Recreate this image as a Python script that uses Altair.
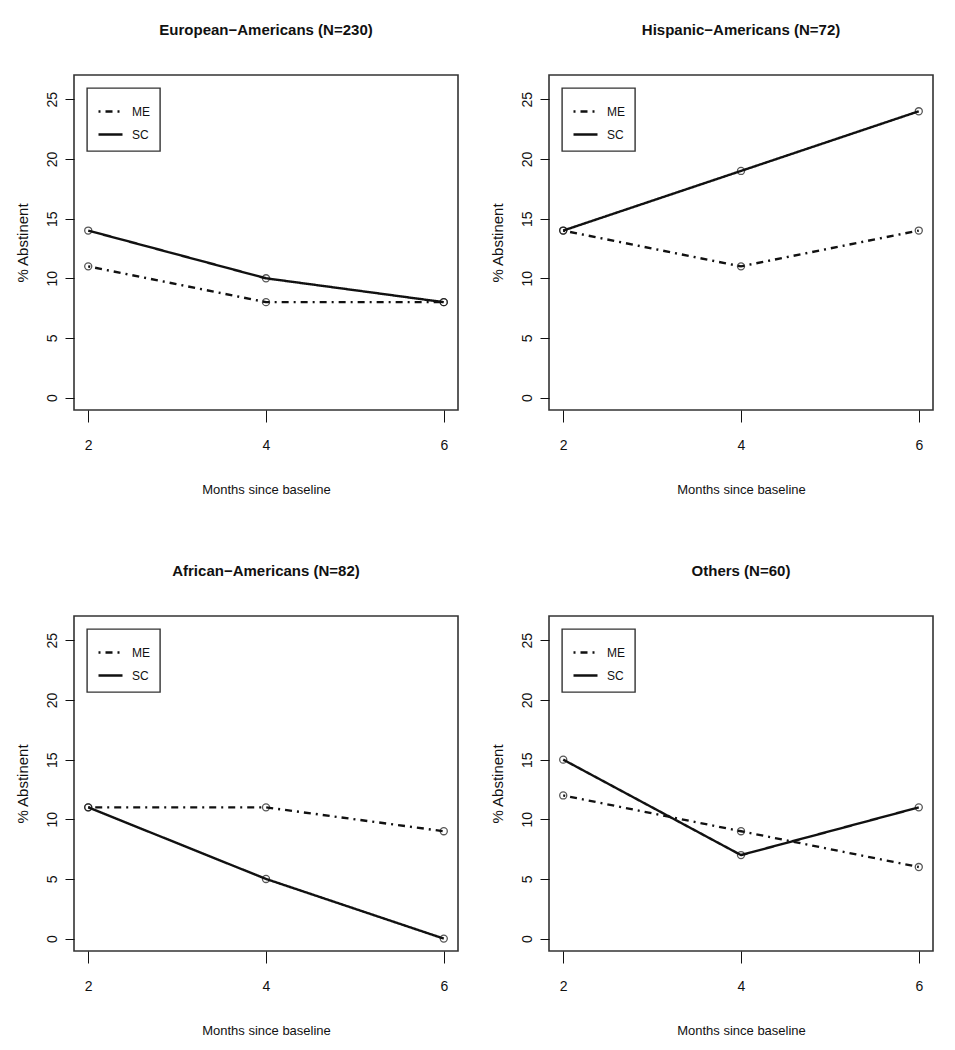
import altair as alt
import pandas as pd

months = [2, 4, 6]
panel_titles = [
    "European\u2212Americans (N=230)",
    "Hispanic\u2212Americans (N=72)",
    "African\u2212Americans (N=82)",
    "Others (N=60)",
]
series_names = ["ME", "SC"]
euro_me = [11, 8, 8]
euro_sc = [14, 10, 8]
hisp_me = [14, 11, 14]
hisp_sc = [14, 19, 24]
afr_me = [11, 11, 9]
afr_sc = [11, 5, 0]
oth_me = [12, 9, 6]
oth_sc = [15, 7, 11]
y_ticks = [0, 5, 10, 15, 20, 25]
x_title = "Months since baseline"
y_title = "% Abstinent"

panel_values = [
    (euro_me, euro_sc),
    (hisp_me, hisp_sc),
    (afr_me, afr_sc),
    (oth_me, oth_sc),
]

FONT = "Liberation Sans, Arial, Helvetica, sans-serif"
INK = "#111111"


def panel(title, me, sc):
    rows = []
    for name, vals in zip(series_names, (me, sc)):
        for m, v in zip(months, vals):
            rows.append({"month": m, "value": v, "series": name})
    df = pd.DataFrame(rows)
    x = alt.X(
        "month:Q",
        scale=alt.Scale(domain=[1.84, 6.16], nice=False, zero=False),
        axis=alt.Axis(
            values=months, title=x_title, grid=False, domain=False,
            tickSize=12, tickColor=INK, tickWidth=1,
            labelFont=FONT, labelFontSize=14, labelColor=INK, labelPadding=16,
            labelBaseline="top",
            titleFont=FONT, titleFontSize=13, titleFontWeight="normal",
            titleColor=INK, titlePadding=31,
        ),
    )
    y = alt.Y(
        "value:Q",
        scale=alt.Scale(domain=[-1.04, 27.04], nice=False, zero=False),
        axis=alt.Axis(
            values=y_ticks, title=y_title, grid=False, domain=False,
            tickSize=9, tickColor=INK, tickWidth=1,
            labelFont=FONT, labelFontSize=14, labelColor=INK, labelPadding=6,
            labelAngle=270, labelAlign="center", labelBaseline="bottom",
            titleFont=FONT, titleFontSize=15, titleFontWeight="normal",
            titleColor=INK, titlePadding=15,
        ),
    )
    lines = alt.Chart(df).mark_line(color=INK, strokeWidth=2.4).encode(
        x=x,
        y=y,
        strokeDash=alt.StrokeDash(
            "series:N",
            scale=alt.Scale(domain=series_names, range=[[2, 5, 7, 5], [1, 0]]),
            legend=alt.Legend(
                title=None, orient="top-left", offset=13,
                symbolType="stroke", symbolSize=576, symbolStrokeWidth=2.4,
                symbolStrokeColor=INK, labelFont=FONT, labelFontSize=12,
                labelColor=INK, labelOffset=8, padding=10, rowPadding=3,
                strokeColor="#333333", fillColor="white", cornerRadius=0,
            ),
        ),
    )
    points = alt.Chart(df).mark_point(
        shape="circle", filled=False, color=INK, size=50, strokeWidth=1.3
    ).encode(x=x, y=y, detail="series:N")
    return alt.layer(lines, points).properties(
        width=384, height=335,
        title=alt.TitleParams(
            title, font=FONT, fontSize=15, fontWeight="bold", color=INK,
            anchor="middle", frame="group", offset=37,
        ),
    )


charts = [panel(t, *v) for t, v in zip(panel_titles, panel_values)]
row1 = alt.hconcat(charts[0], charts[1], spacing=30).resolve_scale(
    strokeDash="independent").resolve_legend(strokeDash="independent")
row2 = alt.hconcat(charts[2], charts[3], spacing=30).resolve_scale(
    strokeDash="independent").resolve_legend(strokeDash="independent")
chart = alt.vconcat(row1, row2, spacing=66).resolve_scale(
    strokeDash="independent"
).resolve_legend(
    strokeDash="independent"
).configure_view(
    stroke="#333333", strokeWidth=1.6
).configure_legend(
    strokeWidth=1.4
).properties(
    padding={"left": 6, "top": 14, "right": 5, "bottom": 5}
)

chart.save("out.html", embed_options={"renderer": "svg", "actions": False})
